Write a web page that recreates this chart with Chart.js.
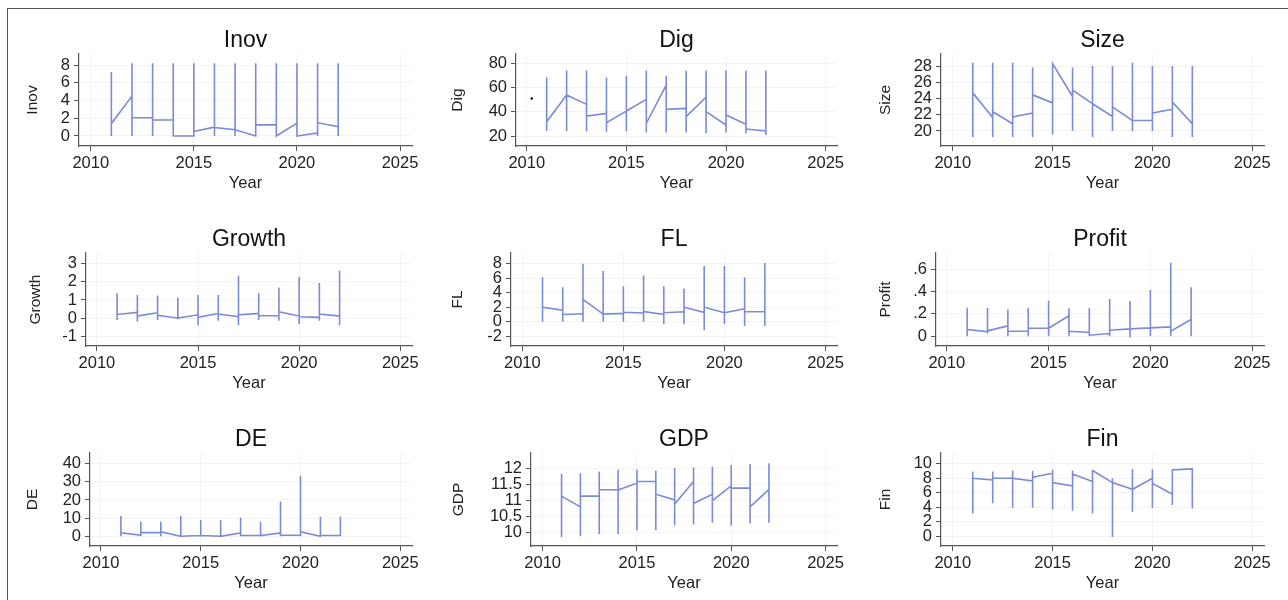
<!DOCTYPE html>
<html>
<head>
<meta charset="utf-8">
<script src="https://cdn.jsdelivr.net/npm/chart.js@4.4.1/dist/chart.umd.min.js"></script>
<style>
  html, body { margin: 0; padding: 0; background: #fff; width: 1288px; height: 600px; overflow: hidden; }
  .panel { position: absolute; }
  #frame { position: absolute; left: 7px; top: 8px; width: 1400px; height: 700px; border: 1px solid #555; pointer-events: none; z-index: 5; }
</style>
</head>
<body>
<div id="frame"></div>
<script>
// years shared by all panels
const years = [2011, 2012, 2013, 2014, 2015, 2016, 2017, 2018, 2019, 2020, 2021, 2022];
const yearTicks = [2010, 2015, 2020, 2025];

// per year: lowest and highest firm value, value where the line comes in and where it leaves
const inovLow  = [0, 0, 0, 0, 0, 0, 0, 0, 0, 0, 0, 0];
const inovHigh = [7.2, 8.2, 8.2, 8.2, 8.2, 8.2, 8.2, 8.2, 8.2, 8.2, 8.2, 8.2];
const inovIn   = [1.4, 4.5, 2.05, 1.8, 0, 1.0, 0.7, 0, 1.25, 1.45, 0.35, 1.05];
const inovOut  = [1.4, 2.05, 1.8, 0, 0.5, 0.95, 0.7, 1.25, 0, 0, 1.5, 1.05];
const inovTicks = [0, 2, 4, 6, 8];

const digLow  = [24.1, 24, 24, 23.6, 24, 22.8, 22.8, 22.8, 22.2, 22.8, 22.2, 20.8];
const digHigh = [68.4, 74, 74, 68.4, 69.8, 74, 69.8, 74, 74, 74, 74, 74];
const digIn   = [31.8, 53.9, 46.1, 38.7, 40.6, 50.3, 62.1, 42.8, 52, 29.1, 29.6, 24.1];
const digOut  = [31.8, 53.9, 36.5, 31, 40.6, 30.5, 42, 36, 40.1, 37.3, 25.8, 24.1];
const digTicks = [20, 40, 60, 80];
const digDotYear = [2010.25];
const digDotValue = [51];

const sizeLow  = [19.25, 19.25, 19.25, 19.25, 19.6, 20, 19.25, 20, 20, 20, 19.25, 19.25];
const sizeHigh = [28.5, 28.5, 28.5, 27.9, 28.4, 27.9, 28.1, 28.1, 28.5, 28.1, 28.1, 28.1];
const sizeIn   = [24.75, 21.67, 20.9, 22.25, 23.5, 24.3, 23.4, 21.8, 21.3, 21.3, 22.7, 20.9];
const sizeOut  = [24.75, 22.4, 21.75, 24.5, 28.4, 25.1, 23.4, 23.0, 21.3, 22.25, 23.6, 20.9];
const sizeTicks = [20, 22, 24, 26, 28];

const growthLow  = [-0.11, -0.2, -0.1, -0.07, -0.4, -0.15, -0.4, -0.1, -0.15, -0.33, -0.15, -0.39];
const growthHigh = [1.37, 1.28, 1.24, 1.13, 1.28, 1.28, 2.33, 1.37, 1.69, 2.26, 1.93, 2.61];
const growthIn   = [0.2, 0.31, 0.3, 0, 0.18, 0.26, 0.07, 0.26, 0.13, 0.11, 0.04, 0.11];
const growthOut  = [0.2, 0.11, 0.15, 0, 0.04, 0.22, 0.18, 0.13, 0.35, 0.07, 0.22, 0.11];
const growthTicks = [-1, 0, 1, 2, 3];

const flLow  = [0, 0, 0, 0, 0, 0, -0.33, -0.33, -1.16, -0.33, -0.6, -0.6];
const flHigh = [6.15, 4.76, 8.0, 7.0, 4.9, 6.4, 4.9, 4.6, 7.7, 7.7, 6.1, 8.1];
const flIn   = [1.98, 1.6, 1.1, 1.05, 1.15, 1.2, 1.0, 1.38, 1.29, 1.24, 1.8, 1.38];
const flOut  = [1.98, 1.0, 3.1, 1.05, 1.3, 1.4, 1.24, 2.0, 2.0, 1.24, 1.38, 1.38];
const flTicks = [-2, 0, 2, 4, 6, 8];

const profitLow  = [0, 0.024, 0, 0, 0, 0, 0, 0, -0.012, 0, 0, 0];
const profitHigh = [0.255, 0.255, 0.24, 0.255, 0.318, 0.25, 0.25, 0.333, 0.315, 0.414, 0.654, 0.438];
const profitIn   = [0.06, 0.04, 0.093, 0.045, 0.072, 0.183, 0.033, 0.024, 0.066, 0.075, 0.084, 0.15];
const profitOut  = [0.06, 0.048, 0.045, 0.072, 0.072, 0.045, 0.009, 0.054, 0.066, 0.075, 0.045, 0.15];
const profitTicks = [0, 0.2, 0.4, 0.6];
const profitTickLabels = ["0", ".2", ".4", ".6"];

const deLow  = [0, 0, 0, 0, 0, 0, 0, 0, 0, 0, 0, 0];
const deHigh = [11.1, 8.0, 8.0, 11.1, 8.9, 8.9, 10.2, 8.0, 19.1, 33.3, 10.7, 10.7];
const deIn   = [1.85, 0.55, 2.0, 0, 0.4, 0, 1.85, 0.4, 1.85, 0.55, 0, 0.4];
const deOut  = [1.85, 2.0, 2.4, 0, 0.4, 0, 0.4, 0.4, 0.55, 2.4, 0.4, 0.4];
const deTicks = [0, 10, 20, 30, 40];

const gdpLow  = [9.85, 9.87, 9.94, 9.94, 10.06, 10.06, 10.21, 10.24, 10.3, 10.21, 10.28, 10.3];
const gdpHigh = [11.84, 11.86, 11.92, 11.97, 11.97, 11.95, 12.02, 12.04, 12.07, 12.11, 12.15, 12.18];
const gdpIn   = [11.14, 10.8, 11.14, 11.33, 11.55, 11.6, 11.02, 11.6, 11.2, 11.46, 11.39, 11.35];
const gdpOut  = [11.14, 11.14, 11.35, 11.33, 11.6, 11.2, 10.89, 10.91, 11.0, 11.39, 10.8, 11.35];
const gdpTicks = [10, 10.5, 11, 11.5, 12];

const finLow  = [3.15, 4.54, 3.94, 3.94, 3.7, 3.5, 3.15, -0.1, 3.38, 3.94, 4.3, 3.84];
const finHigh = [8.94, 8.94, 9.07, 9.03, 9.17, 9.07, 9.17, 8.0, 9.26, 9.26, 9.26, 9.4];
const finIn   = [8.0, 7.78, 8.0, 7.64, 8.7, 6.94, 7.55, 7.4, 6.48, 8.0, 5.79, 9.3];
const finOut  = [8.0, 8.0, 8.0, 8.15, 7.4, 8.6, 9.07, 7.4, 6.48, 7.3, 9.17, 9.3];
const finTicks = [0, 2, 4, 6, 8, 10];

// layout: plot box in page pixels, axis ranges, y title distance from axis
const panels = [
  { name: "Inov",   low: inovLow,   high: inovHigh,   inn: inovIn,   out: inovOut,   ticks: inovTicks,
    box: [79, 54, 412, 146],   x: [2009.43, 2025.58], y: [-1.13, 9.24],   titleGap: 46 },
  { name: "Dig",    low: digLow,    high: digHigh,    inn: digIn,    out: digOut,    ticks: digTicks,
    box: [516, 54, 837, 146],  x: [2009.46, 2025.57], y: [11.75, 87.7],   titleGap: 58 },
  { name: "Size",   low: sizeLow,   high: sizeHigh,   inn: sizeIn,   out: sizeOut,   ticks: sizeTicks,
    box: [941, 54, 1264, 146], x: [2009.41, 2025.59], y: [18.13, 29.59],  titleGap: 55 },
  { name: "Growth", low: growthLow, high: growthHigh, inn: growthIn, out: growthOut, ticks: growthTicks,
    box: [86, 253, 412, 346],  x: [2009.46, 2025.58], y: [-1.54, 3.59],   titleGap: 50 },
  { name: "FL",     low: flLow,     high: flHigh,     inn: flIn,     out: flOut,     ticks: flTicks,
    box: [511, 253, 837, 346], x: [2009.44, 2025.57], y: [-3.35, 9.49],   titleGap: 53 },
  { name: "Profit", low: profitLow, high: profitHigh, inn: profitIn, out: profitOut, ticks: profitTicks, labels: profitTickLabels,
    box: [936, 253, 1264, 346], x: [2009.47, 2025.58], y: [-0.087, 0.744], titleGap: 50 },
  { name: "DE",     low: deLow,     high: deHigh,     inn: deIn,     out: deOut,     ticks: deTicks,
    box: [90, 453, 412, 546],  x: [2009.45, 2025.59], y: [-5.39, 45.9],   titleGap: 57 },
  { name: "GDP",    low: gdpLow,    high: gdpHigh,    inn: gdpIn,    out: gdpOut,    ticks: gdpTicks,
    box: [531, 453, 837, 546], x: [2009.38, 2025.61], y: [9.565, 12.5],   titleGap: 72 },
  { name: "Fin",    low: finLow,    high: finHigh,    inn: finIn,    out: finOut,    ticks: finTicks,
    box: [941, 453, 1264, 546], x: [2009.41, 2025.59], y: [-1.35, 11.49], titleGap: 55 }
];

const FONT = '"Liberation Sans", Arial, Helvetica, sans-serif';
const LINE = "#7b8bd6";
const AXIS = "#555";
const GRID = "#f3f3f3";
const LEFT_W = 100, TOP_H = 50, BOTTOM_H = 55, RIGHT_P = 12;

//panel title drawn centred over the plot region
const panelTitle = {
  id: "panelTitle",
  afterDraw(chart, args, opts) {
    const { ctx, chartArea } = chart;
    ctx.save();
    ctx.font = "23px " + FONT;
    ctx.fillStyle = "#111";
    ctx.textAlign = "center";
    ctx.textBaseline = "alphabetic";
    ctx.fillText(opts.text, (chartArea.left + chartArea.right) / 2, chartArea.top - 7);
    ctx.restore();
  }
};

panels.forEach(function (p) {
  const [l, t, r, b] = p.box;
  const div = document.createElement("div");
  div.className = "panel";
  div.style.left = (l - LEFT_W) + "px";
  div.style.top = (t - TOP_H) + "px";
  div.style.width = (r - l + LEFT_W + RIGHT_P) + "px";
  div.style.height = (b - t + TOP_H + BOTTOM_H) + "px";
  const canvas = document.createElement("canvas");
  div.appendChild(canvas);
  document.body.appendChild(div);

  // walk each year: in -> low -> high -> out, so every year is a vertical span
  let points = [];
  years.forEach(function (yr, i) {
    points.push({ x: yr, y: p.inn[i] });
    points.push({ x: yr, y: p.low[i] });
    points.push({ x: yr, y: p.high[i] });
    points.push({ x: yr, y: p.out[i] });
  });

  let datasets = [{
    data: points,
    borderColor: LINE,
    borderWidth: 1.6,
    pointRadius: 0,
    tension: 0,
    fill: false
  }];
  if (p.name === "Dig") {
    datasets.push({
      data: digDotYear.map((x, i) => ({ x: x, y: digDotValue[i] })),
      showLine: false,
      pointRadius: 1.2,
      pointBackgroundColor: "#000",
      pointBorderWidth: 0
    });
  }

  new Chart(canvas, {
    type: "line",
    data: { datasets: datasets },
    plugins: [panelTitle],
    options: {
      responsive: true,
      maintainAspectRatio: false,
      animation: false,
      layout: { padding: { top: TOP_H, right: RIGHT_P, left: 0, bottom: 0 } },
      plugins: {
        legend: { display: false },
        tooltip: { enabled: false },
        panelTitle: { text: p.name }
      },
      scales: {
        x: {
          type: "linear",
          min: p.x[0],
          max: p.x[1],
          afterBuildTicks: s => { s.ticks = yearTicks.map(v => ({ value: v })); },
          afterFit: s => { s.height = BOTTOM_H; },
          ticks: {
            autoSkip: false, maxRotation: 0, padding: 3,
            color: "#222", font: { family: FONT, size: 16.5 },
            callback: v => String(v)
          },
          grid: { color: GRID, tickColor: AXIS, tickLength: 5, lineWidth: 1 },
          border: { display: true, color: AXIS, width: 1.2 },
          title: {
            display: true, text: "Year", color: "#222",
            font: { family: FONT, size: 16.5 },
            padding: { top: 0, bottom: 8 }
          }
        },
        y: {
          type: "linear",
          min: p.y[0],
          max: p.y[1],
          afterBuildTicks: s => { s.ticks = p.ticks.map(v => ({ value: v })); },
          afterFit: s => { s.width = LEFT_W; },
          ticks: {
            autoSkip: false, padding: 4,
            color: "#222", font: { family: FONT, size: 16.5 },
            callback: (v, i) => p.labels ? p.labels[i] : String(v)
          },
          grid: { color: GRID, tickColor: AXIS, tickLength: 5, lineWidth: 1 },
          border: { display: true, color: AXIS, width: 1.2 },
          title: {
            display: true, text: p.name, color: "#222",
            font: { family: FONT, size: 15.5 },
            padding: { top: LEFT_W - p.titleGap - 9.3, bottom: 0 }
          }
        }
      }
    }
  });
});
</script>
</body>
</html>
